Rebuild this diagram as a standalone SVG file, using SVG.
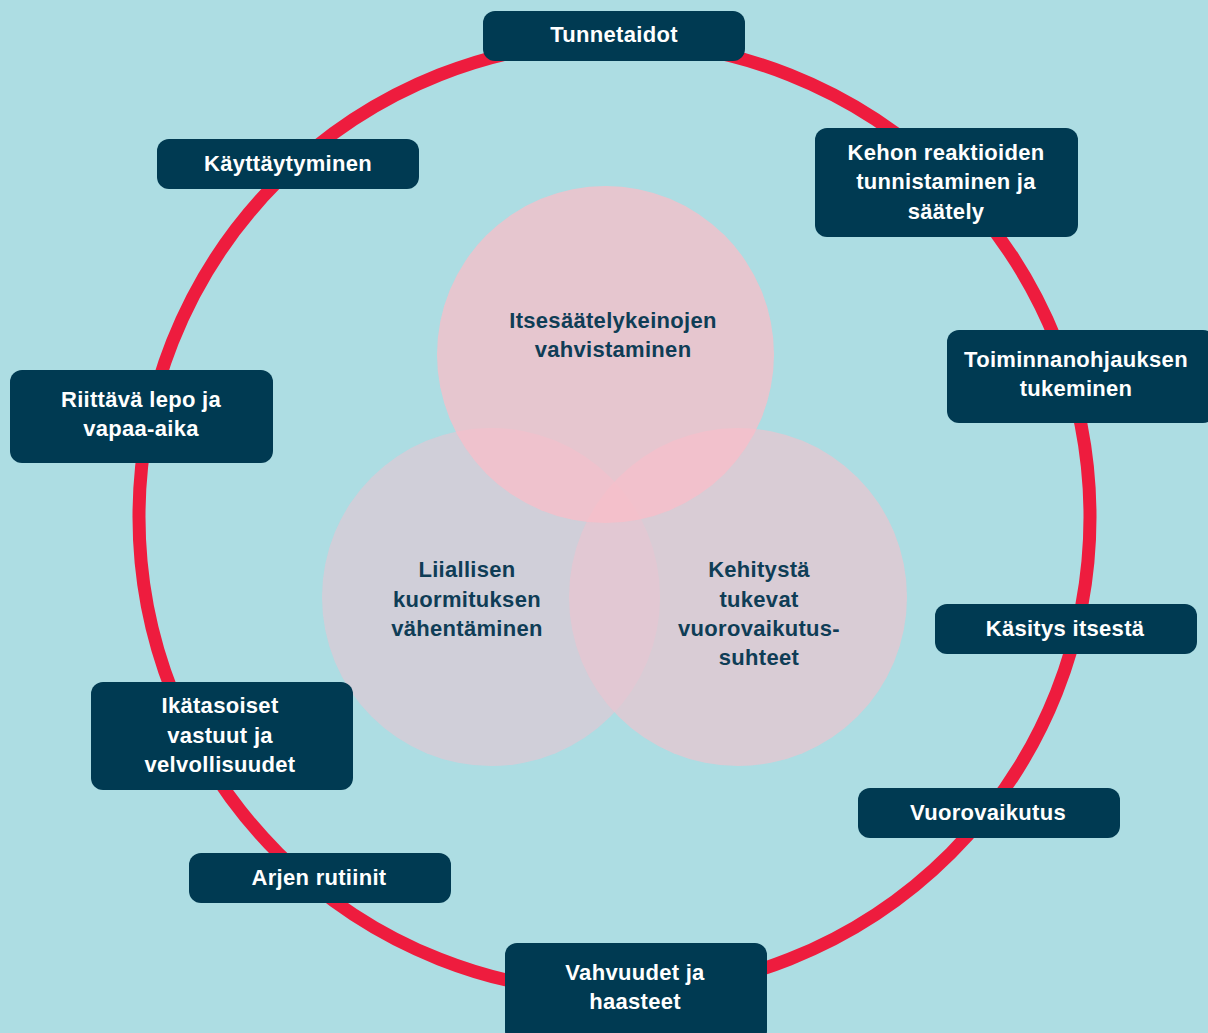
<svg xmlns="http://www.w3.org/2000/svg" width="1208" height="1033" viewBox="0 0 1208 1033">
<style>
.box{fill:#003a52;}
.bt{font-family:"Liberation Sans",Arial,sans-serif;font-weight:bold;font-size:22px;letter-spacing:0.3px;fill:#ffffff;text-anchor:middle;}
.vt{font-family:"Liberation Sans",Arial,sans-serif;font-weight:bold;font-size:22px;letter-spacing:0.3px;fill:#0f3d56;text-anchor:middle;}
.ring{fill:none;stroke:#ee1c3e;stroke-width:13;}
.venn{opacity:0.75;}
</style>
<rect x="0" y="0" width="1208" height="1033" fill="#addde3"/>
<g id="connectors">
<circle class="ring" cx="614.5" cy="517" r="475.5"/>
</g>
<g id="venn-left"><circle class="venn" cx="491" cy="597" r="169" fill="#dccad6"/>
<text class="vt"><tspan x="467" y="577">Liiallisen</tspan><tspan x="467" y="607">kuormituksen</tspan><tspan x="467" y="636">vähentäminen</tspan></text></g>
<g id="venn-right"><circle class="venn" cx="738" cy="597" r="169" fill="#e8c6d0"/>
<text class="vt"><tspan x="759" y="577">Kehitystä</tspan><tspan x="759" y="607">tukevat</tspan><tspan x="759" y="636">vuorovaikutus-</tspan><tspan x="759" y="665">suhteet</tspan></text></g>
<g id="venn-top"><circle class="venn" cx="605.5" cy="354.5" r="168.5" fill="#f9bec8"/>
<text class="vt"><tspan x="613" y="328">Itsesäätelykeinojen</tspan><tspan x="613" y="357">vahvistaminen</tspan></text></g>
<g id="n-tunnetaidot"><rect class="box" x="483" y="11" width="262" height="50" rx="12"/><text class="bt" x="614" y="42">Tunnetaidot</text></g>
<g id="n-kayttaytyminen"><rect class="box" x="157" y="139" width="262" height="50" rx="12"/><text class="bt" x="288" y="171">Käyttäytyminen</text></g>
<g id="n-kehon"><rect class="box" x="815" y="128" width="263" height="109" rx="12"/><text class="bt"><tspan x="946" y="160">Kehon reaktioiden</tspan><tspan x="946" y="189">tunnistaminen ja</tspan><tspan x="946" y="219">säätely</tspan></text></g>
<g id="n-toiminnan"><rect class="box" x="947" y="330" width="268" height="93" rx="12"/><text class="bt"><tspan x="1076" y="367">Toiminnanohjauksen</tspan><tspan x="1076" y="396">tukeminen</tspan></text></g>
<g id="n-riittava"><rect class="box" x="10" y="370" width="263" height="93" rx="12"/><text class="bt"><tspan x="141" y="407">Riittävä lepo ja</tspan><tspan x="141" y="436">vapaa-aika</tspan></text></g>
<g id="n-kasitys"><rect class="box" x="935" y="604" width="262" height="50" rx="12"/><text class="bt" x="1065" y="636">Käsitys itsestä</text></g>
<g id="n-ikatasoiset"><rect class="box" x="91" y="682" width="262" height="108" rx="12"/><text class="bt"><tspan x="220" y="713">Ikätasoiset</tspan><tspan x="220" y="743">vastuut ja</tspan><tspan x="220" y="772">velvollisuudet</tspan></text></g>
<g id="n-vuorovaikutus"><rect class="box" x="858" y="788" width="262" height="50" rx="12"/><text class="bt" x="988" y="820">Vuorovaikutus</text></g>
<g id="n-arjen"><rect class="box" x="189" y="853" width="262" height="50" rx="12"/><text class="bt" x="319" y="885">Arjen rutiinit</text></g>
<g id="n-vahvuudet"><rect class="box" x="505" y="943" width="262" height="100" rx="12"/><text class="bt"><tspan x="635" y="980">Vahvuudet ja</tspan><tspan x="635" y="1009">haasteet</tspan></text></g>
</svg>
